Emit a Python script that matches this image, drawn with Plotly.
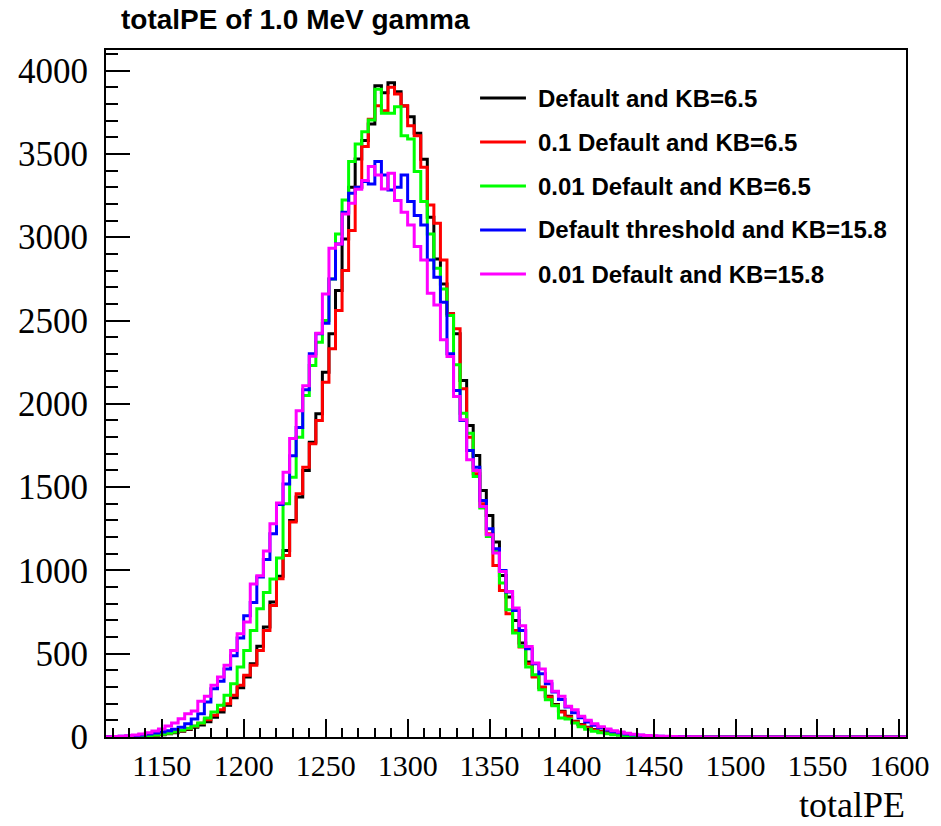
import plotly.graph_objects as go

# ---------------- data (bin width 4, first bin starts at 1116) ----------------
BIN_START = 1116
BIN_WIDTH = 4
N_BINS = 122  # 1116 .. 1604

series_names = [
    "Default and KB=6.5",
    "0.1 Default and KB=6.5",
    "0.01 Default and KB=6.5",
    "Default threshold and KB=15.8",
    "0.01 Default and KB=15.8",
]
series_colors = ["#000000", "#ff0000", "#00ff00", "#0000ff", "#ff00ff"]

default_kb65 = [
    0, 1, 1, 2, 3, 5, 7, 10, 14, 19,
    26, 34, 45, 58, 72, 92, 118, 150, 190, 236,
    296, 360, 440, 545, 660, 810, 965, 1120, 1300, 1440,
    1600, 1770, 1940, 2190, 2420, 2680, 2990, 3300, 3470, 3580,
    3680, 3910, 3868, 3928, 3874, 3788, 3724, 3624, 3468, 3120,
    2870, 2720, 2540, 2420, 2140, 1870, 1690, 1480, 1330, 1170,
    970, 840, 700, 565, 450, 365, 295, 245, 195, 155,
    125, 95, 75, 58, 45, 34, 26, 20, 15, 11,
    8, 6, 4, 3, 2, 1, 1, 0, 0, 0,
    0, 0, 0, 0, 0, 0, 0, 0, 0, 0,
    0, 0, 0, 0, 0, 0, 0, 0, 0, 0,
    0, 0, 0, 0, 0, 0, 0, 0, 0, 0,
    0, 0,
]
tenth_default_kb65 = [
    0, 1, 1, 2, 3, 6, 8, 12, 16, 22,
    30, 38, 50, 64, 82, 104, 130, 164, 200, 250,
    310, 370, 430, 520, 640, 790, 950, 1090, 1290, 1460,
    1620, 1760, 1900, 2130, 2330, 2560, 2800, 3040, 3300, 3544,
    3708, 3790, 3760, 3900, 3860, 3790, 3670, 3610, 3420, 3194,
    3084, 2864, 2540, 2450, 2090, 1800, 1580, 1400, 1220, 1030,
    880, 740, 640, 540, 440, 360, 300, 240, 190, 150,
    120, 92, 72, 55, 42, 32, 24, 18, 13, 10,
    7, 5, 4, 3, 2, 1, 1, 0, 0, 0,
    0, 0, 0, 0, 0, 0, 0, 0, 0, 0,
    0, 0, 0, 0, 0, 0, 0, 0, 0, 0,
    0, 0, 0, 0, 0, 0, 0, 0, 0, 0,
    0, 0,
]
hundredth_default_kb65 = [
    0, 1, 2, 3, 4, 6, 9, 12, 17, 23,
    30, 40, 52, 66, 84, 114, 150, 190, 250, 320,
    420, 520, 640, 770, 868, 948, 1074, 1400, 1560, 1800,
    2050, 2230, 2370, 2500, 2750, 3020, 3224, 3454, 3560, 3634,
    3704, 3888, 3744, 3744, 3784, 3610, 3590, 3394, 3214, 3020,
    2814, 2690, 2530, 2234, 1944, 1824, 1564, 1374, 1204, 1114,
    924, 764, 624, 544, 420, 374, 284, 224, 188, 114,
    108, 84, 62, 46, 35, 26, 19, 14, 10, 7,
    5, 4, 3, 2, 1, 1, 0, 0, 0, 0,
    0, 0, 0, 0, 0, 0, 0, 0, 0, 0,
    0, 0, 0, 0, 0, 0, 0, 0, 0, 0,
    0, 0, 0, 0, 0, 0, 0, 0, 0, 0,
    0, 0,
]
default_thr_kb158 = [
    2, 3, 4, 6, 8, 12, 18, 24, 30, 38,
    46, 58, 80, 108, 140, 210, 290, 334, 408, 488,
    594, 728, 808, 960, 1066, 1220, 1396, 1519, 1688, 1858,
    2084, 2300, 2420, 2484, 2750, 2960, 3150, 3264, 3300, 3334,
    3320, 3454, 3374, 3284, 3300, 3374, 3214, 3130, 3074, 2864,
    2760, 2610, 2300, 2080, 1900, 1720, 1620, 1420, 1250, 1130,
    1000, 870, 760, 640, 530, 440, 380, 320, 270, 225,
    180, 145, 115, 90, 70, 55, 42, 32, 25, 18,
    13, 10, 7, 5, 4, 3, 2, 1, 1, 0,
    0, 0, 0, 0, 0, 0, 0, 0, 0, 0,
    0, 0, 0, 0, 0, 0, 0, 0, 0, 0,
    0, 0, 0, 0, 0, 0, 0, 0, 0, 0,
    0, 0,
]
hundredth_default_kb158 = [
    2, 3, 5, 8, 12, 18, 26, 36, 48, 66,
    84, 110, 140, 156, 214, 244, 310, 360, 430, 520,
    620, 690, 918, 968, 1116, 1280, 1404, 1589, 1792, 1958,
    2108, 2286, 2424, 2660, 2934, 2960, 3140, 3204, 3288, 3340,
    3424, 3374, 3290, 3384, 3220, 3150, 3074, 2944, 2864, 2664,
    2594, 2384, 2284, 2044, 1904, 1664, 1600, 1384, 1214, 1104,
    994, 874, 774, 668, 544, 444, 408, 334, 274, 244,
    184, 164, 125, 100, 80, 62, 48, 38, 30, 22,
    17, 12, 9, 7, 5, 4, 3, 2, 1, 1,
    1, 0, 0, 0, 0, 0, 0, 0, 0, 0,
    0, 0, 0, 0, 0, 0, 0, 0, 0, 0,
    0, 0, 0, 0, 0, 0, 0, 0, 0, 0,
    0, 0,
]

all_series = [default_kb65, tenth_default_kb65, hundredth_default_kb65,
              default_thr_kb158, hundredth_default_kb158]

x_ticks = [1150, 1200, 1250, 1300, 1350, 1400, 1450, 1500, 1550, 1600]
y_ticks = [0, 500, 1000, 1500, 2000, 2500, 3000, 3500, 4000]

title_text = "totalPE of 1.0 MeV gamma"
x_title = "totalPE"

# ---------------- figure ----------------
W, H = 941, 826
ML, MR, MT, MB = 106, 33, 50, 89
PW = W - ML - MR
PH = H - MT - MB

edges = [BIN_START + BIN_WIDTH * i for i in range(N_BINS + 1)]

fig = go.Figure()
for name, color, vals in zip(series_names, series_colors, all_series):
    xs = [edges[0]] + edges
    ys = [0] + list(vals) + [vals[-1]]
    fig.add_trace(go.Scatter(
        x=xs, y=ys, mode="lines", name=name,
        line=dict(shape="hv", width=3, color=color),
        showlegend=False, hoverinfo="skip",
    ))

def px_x(p):
    return (p - ML) / PW

def px_y(p):
    return (H - MB - p) / PH

# manual ROOT-style legend
leg_y = [98, 142, 186, 230, 274]
shapes = []
annotations = []
for name, color, yy in zip(series_names, series_colors, leg_y):
    shapes.append(dict(type="line", xref="paper", yref="paper",
                       x0=px_x(481), x1=px_x(527), y0=px_y(yy), y1=px_y(yy),
                       line=dict(color=color, width=3)))
    annotations.append(dict(xref="paper", yref="paper", x=px_x(537), y=px_y(yy),
                            xanchor="left", yanchor="middle", showarrow=False,
                            text="<b>" + name + "</b>",
                            font=dict(family="Liberation Sans, Arial", size=24, color="black")))

annotations.append(dict(xref="paper", yref="paper", x=px_x(119), y=px_y(20),
                        xanchor="left", yanchor="middle", showarrow=False,
                        text="<b>" + title_text + "</b>",
                        font=dict(family="Liberation Sans, Arial", size=28, color="black")))
annotations.append(dict(xref="paper", yref="paper", x=px_x(909), y=px_y(805),
                        xanchor="right", yanchor="middle", showarrow=False,
                        text=x_title,
                        font=dict(family="Liberation Serif, Times New Roman", size=36, color="black")))

fig.update_layout(
    width=W, height=H,
    margin=dict(l=ML, r=MR, t=MT, b=MB, pad=0),
    paper_bgcolor="white", plot_bgcolor="white",
    shapes=shapes, annotations=annotations,
    showlegend=False,
)
fig.update_xaxes(
    range=[1116, 1604], tickmode="array", tickvals=x_ticks,
    ticktext=[str(v) for v in x_ticks],
    ticks="inside", ticklen=18, tickwidth=1.5, tickcolor="black",
    minor=dict(ticks="inside", ticklen=9, dtick=10, tick0=1100, tickcolor="black", tickwidth=1.5),
    showgrid=False, zeroline=False,
    showline=True, linecolor="black", linewidth=2, mirror=True,
    tickfont=dict(family="Liberation Serif, Times New Roman", size=30, color="black"),
    ticklabelstandoff=1,
)
fig.update_yaxes(
    range=[0, 4124], tickmode="array", tickvals=y_ticks,
    ticktext=[str(v) for v in y_ticks],
    ticks="inside", ticklen=24, tickwidth=1.5, tickcolor="black",
    minor=dict(ticks="inside", ticklen=12, dtick=100, tick0=0, tickcolor="black", tickwidth=1.5),
    showgrid=False, zeroline=False,
    showline=True, linecolor="black", linewidth=2, mirror=True,
    tickfont=dict(family="Liberation Serif, Times New Roman", size=35, color="black"),
    ticklabelstandoff=9,
)

fig.write_html("out.html")
